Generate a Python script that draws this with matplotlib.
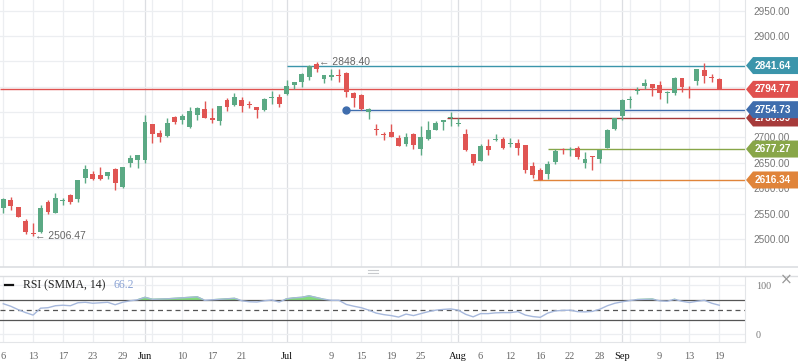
import matplotlib
matplotlib.use('Agg')
import matplotlib.pyplot as plt
from matplotlib.patches import Polygon
from matplotlib.transforms import blended_transform_factory, Bbox, TransformedBbox
import numpy as np


# Daily OHLC candles (oldest first)
opens = [2562, 2577, 2563, 2535.6, 2512.6, 2514.6, 2573, 2552, 2575, 2587,
         2579.5, 2621, 2628, 2626, 2624, 2638, 2603, 2650, 2655, 2656,
         2726.6, 2709, 2703, 2740, 2735, 2721, 2744, 2756, 2738.4, 2732.5,
         2774, 2764, 2774, 2765, 2760, 2754, 2778, 2780, 2786, 2803,
         2809, 2819, 2844.7, 2816, 2819, 2823, 2827, 2787.6, 2783.7, 2751,
         2716, 2706, 2711, 2699, 2688, 2707, 2678, 2697.6, 2715.4, 2731,
         2739, 2727, 2707, 2667.5, 2654, 2683, 2695.5, 2697, 2687, 2689,
         2685, 2644, 2636, 2628, 2652, 2676.5, 2674.5, 2678.7, 2650.4, 2663,
         2658, 2680, 2717, 2743, 2773, 2791, 2801, 2805, 2803, 2787,
         2788, 2817, 2795, 2812, 2833, 2818.5, 2815]
highs = [2580, 2583, 2563, 2539.6, 2531.7, 2567, 2577, 2590.7, 2580, 2589.5,
         2617, 2646, 2634, 2642, 2632, 2640.5, 2642, 2665.5, 2666, 2744,
         2727, 2714.8, 2737.8, 2742, 2746, 2760, 2760, 2772, 2758, 2762,
         2777, 2787.6, 2780, 2772, 2761, 2778.4, 2791, 2786, 2813, 2810,
         2826, 2842, 2848.4, 2824, 2835, 2835, 2829.5, 2790, 2785, 2758,
         2726.6, 2711, 2726.6, 2704, 2709, 2709, 2722.7, 2732.5, 2732.5, 2735,
         2751, 2738, 2717, 2668, 2687, 2697.6, 2707, 2701, 2699, 2697,
         2686, 2651.8, 2640, 2653.7, 2677.27, 2678.7, 2680.7, 2682.7, 2671, 2664,
         2676, 2716, 2738.5, 2776, 2782, 2799, 2815, 2806, 2811, 2791.5,
         2819, 2818, 2801, 2835, 2846.7, 2824.4, 2817]
lows = [2552, 2558, 2543, 2510.6, 2506.47, 2511.4, 2550, 2551, 2568, 2568.5,
        2573.6, 2611, 2617, 2617, 2619, 2597, 2601, 2642, 2640, 2650.4,
        2690, 2692, 2701.6, 2726, 2727, 2719, 2734.5, 2739, 2729, 2724.6,
        2752, 2762.6, 2751, 2759, 2739, 2752, 2766, 2761, 2784, 2795.5,
        2799, 2814, 2829, 2807, 2813, 2810, 2780, 2759.5, 2754.73, 2736,
        2705, 2696, 2701, 2683, 2684, 2677, 2665.5, 2696, 2714, 2715,
        2723, 2723, 2673, 2646.5, 2653, 2666, 2694, 2677, 2682, 2666,
        2630.7, 2620, 2616.34, 2619, 2648, 2667, 2663, 2658, 2640.5, 2636.6,
        2650.4, 2679, 2715, 2735, 2759, 2786, 2795, 2782, 2776, 2768.5,
        2784, 2790, 2777.6, 2804, 2808, 2810, 2794.77]
closes = [2579, 2565.6, 2544, 2514.6, 2509.4, 2560.6, 2554, 2581, 2577, 2572.5,
          2616, 2638, 2618, 2618, 2631.5, 2611, 2641, 2660, 2665.6, 2730.5,
          2707.5, 2701.6, 2728.5, 2731, 2742, 2752, 2758, 2739, 2735, 2762,
          2760.6, 2780, 2762, 2763.5, 2754, 2776, 2780, 2766, 2801, 2809,
          2825, 2841, 2835, 2823, 2823, 2821, 2790, 2778, 2755.5, 2756,
          2714.6, 2705, 2701.6, 2683.3, 2701, 2684.6, 2701, 2714.6, 2728.5, 2734.4,
          2741, 2729, 2676, 2650.4, 2683, 2676, 2697, 2679, 2688.5, 2680,
          2636.6, 2627, 2617, 2648, 2673.4, 2675, 2676, 2662, 2657, 2661.5,
          2675.4, 2714.6, 2737.8, 2774, 2775, 2794, 2807, 2798, 2788, 2788.5,
          2817, 2799.4, 2793.5, 2835, 2822, 2817.5, 2794.77]

# RSI (SMMA, 14), one value per candle
rsi = [62, 57, 50, 44, 39, 53, 54, 58, 59, 58,
       64, 65, 63, 64, 65, 60, 65, 68, 70, 75,
       71, 71.5, 72, 73, 74, 75, 76, 69, 70, 71,
       72, 73, 68, 66, 65.5, 68, 69.5, 65.5, 72, 74,
       75, 78, 74.5, 71, 69, 69, 60.5, 57, 54, 49,
       43, 40, 38, 35, 41, 38, 42, 46, 49, 50.5,
       51.5, 49, 40.5, 35.5, 42, 42, 43.5, 44, 44, 46,
       39, 36, 34.5, 43, 47.5, 48.5, 49, 46, 45.5, 46.5,
       51, 58, 63, 66, 68.5, 70.5, 71, 71.5, 68, 67,
       71, 67, 64.5, 67, 69, 63, 59]

# x axis labels (candle index, text)
tick_pos = [0, 4, 8, 12, 16, 19, 24, 28, 32, 38, 44, 48, 52, 56, 61, 64,
            68, 72, 76, 80, 83, 88, 92, 96]
tick_labels = ['6', '13', '17', '23', '29', 'Jun', '10', '17', '21', 'Jul',
               '9', '15', '19', '25', 'Aug', '6', '12', '16', '22', '28',
               'Sep', '9', '13', '19']
month_pos = [19, 38, 61, 83]

# price axis ticks (the ones hidden behind the tags stay blank)
price_ticks = [2500, 2550, 2600, 2650, 2700, 2750, 2800, 2850, 2900, 2950]
hidden_ticks = [2750, 2800, 2850]

# horizontal levels: price, start candle, colour
level_prices = [2841.64, 2794.77, 2754.73, 2738.39, 2677.27, 2616.34]
level_starts = [38, -0.5, 46, 59.5, 73, 71]
level_colors = ['#3b95ab', '#e0514f', '#3f6dad', '#a63b3b', '#88a648', '#e0843a']

UP = '#5ba984'
DOWN = '#e05553'
GRID = '#eceef1'

W, H = 798, 363
fig = plt.figure(figsize=(W / 100, H / 100), dpi=100)

XMIN, XMAX = -0.44, 99.45
YMIN, YMAX = 2445, 2970.7
ax = fig.add_axes([0, 1 - 267 / H, 745 / W, 267 / H])
ax2 = fig.add_axes([0, 1 - 342 / H, 745 / W, 66 / H])

n = len(opens)
x = np.arange(n)
o = np.array(opens)
c = np.array(closes)
hi = np.array(highs)
lo = np.array(lows)
col = np.where(c >= o, UP, DOWN)

# ---- main price panel
ax.set_xlim(XMIN, XMAX)
ax.set_ylim(YMIN, YMAX)
for p in range(0, 97, 4):
    ax.axvline(p, color=GRID, lw=0.9, zorder=0)
    ax2.axvline(p, color=GRID, lw=0.9, zorder=0)
for p in month_pos:
    ax.axvline(p, color='#dcdee2', lw=0.9, zorder=0)
    ax2.axvline(p, color='#dcdee2', lw=0.9, zorder=0)
for v in price_ticks:
    ax.axhline(v, color=GRID, lw=0.9, zorder=0)

ax.vlines(x, lo, hi, colors=col, lw=1.0, zorder=3)
body = np.maximum(np.abs(c - o), 2.2)
ax.bar(x, body, bottom=np.minimum(o, c), width=0.66, color=col, zorder=3)

for price, start, colr in zip(level_prices, level_starts, level_colors):
    ax.hlines(price, start, XMAX, colors=colr, lw=1.0, zorder=2)
ax.plot(46, 2754.73, 'o', color='#3f6dad', ms=5, zorder=4)

ax.text(42.3, 2849.5, '\u2190 2848.40', color='#666666', fontsize=7.5,
        family=['Liberation Sans', 'DejaVu Sans'], va='center', ha='left', zorder=4)
ax.text(4.3, 2506.47, '\u2190 2506.47', color='#666666', fontsize=7.5,
        family=['Liberation Sans', 'DejaVu Sans'], va='center', ha='left', zorder=4)

ax.set_xticks([])
ax.yaxis.tick_right()
ax.set_yticks(price_ticks)
ax.set_yticklabels(['' if v in hidden_ticks else f'{v:.2f}' for v in price_ticks])
ax.tick_params(axis='y', length=0, pad=6, labelsize=7.2, labelcolor='#777777')
for t in ax.get_yticklabels():
    t.set_family('Liberation Sans')
for s in ['top', 'left', 'bottom']:
    ax.spines[s].set_visible(False)
ax.spines['right'].set_color('#e3e5e8')

# price tags on the right axis
tr = blended_transform_factory(fig.transFigure, ax.transData)
hh = 8.5 * (YMAX - YMIN) / 267.0
tag_order = [3, 2, 0, 1, 4, 5]
for i in tag_order:
    price, colr = level_prices[i], level_colors[i]
    pts = [(746 / W, price), (753 / W, price + hh), (1.0, price + hh),
           (1.0, price - hh), (753 / W, price - hh)]
    ax.add_patch(Polygon(pts, closed=True, transform=tr, facecolor=colr,
                         edgecolor='none', clip_on=False, zorder=6))
    t = ax.text(773 / W, price, f'{price:.2f}', transform=tr, color='white',
                fontsize=7.2, fontweight='bold', family='Liberation Sans',
                ha='center', va='center', clip_on=False, zorder=7)
    if i == 3:
        # this tag sits partly under the blue one, show only its lower part
        top = level_prices[2] - hh
        t.set_clip_box(TransformedBbox(Bbox([[740 / W, price - hh - 2], [1.0, top]]), tr))
        t.set_clip_on(True)

# ---- RSI panel
ax2.set_xlim(XMIN, XMAX)
ax2.set_ylim(-15.6, 118.3)
ax2.axhline(100, color=GRID, lw=0.9, zorder=0)
ax2.axhline(0, color=GRID, lw=0.9, zorder=0)
r = np.array(rsi, dtype=float)
ax2.fill_between(x, r, 70, where=r > 70, interpolate=True, color='#84dc7e', zorder=1)
ax2.plot(x, r, color='#a6b8dc', lw=1.0, zorder=2)
ax2.axhline(70, color='#555555', lw=0.9, zorder=1)
ax2.axhline(30, color='#555555', lw=0.9, zorder=1)
ax2.axhline(50, color='#555555', lw=0.9, ls=(0, (4, 3)), zorder=1)

ax2.yaxis.tick_right()
ax2.set_yticks([0, 100])
ax2.set_yticklabels(['0', '100'])
ax2.tick_params(axis='y', length=0, pad=8, labelsize=7.2, labelcolor='#777777')
for t in ax2.get_yticklabels():
    t.set_family('Liberation Serif')
ax2.set_xticks(tick_pos)
ax2.set_xticklabels(tick_labels)
ax2.tick_params(axis='x', length=0, pad=7, labelsize=7.5, labelcolor='#666666')
for t, lab in zip(ax2.get_xticklabels(), tick_labels):
    t.set_family('Liberation Serif')
    if not lab.isdigit():
        t.set_color('#111111')
for s in ['top', 'left']:
    ax2.spines[s].set_visible(False)
ax2.spines['right'].set_color('#e3e5e8')
ax2.spines['bottom'].set_color('#e3e5e8')

ax2.text(23 / 745, 0.86, 'RSI (SMMA, 14)', transform=ax2.transAxes, fontsize=8.5,
         family='Liberation Serif', color='#222222', va='center', ha='left')
ax2.text(113 / 745, 0.86, '66.2', transform=ax2.transAxes, fontsize=8.5,
         family='Liberation Serif', color='#8aa2d4', va='center', ha='left')

# panel separators, collapse dash, resize handle, close cross
fig.add_artist(plt.Line2D([0, 1], [1 - 267 / H] * 2, color='#dcdee1', lw=1.2))
fig.add_artist(plt.Line2D([0, 1], [1 - 276 / H] * 2, color='#dcdee1', lw=1.0))
fig.add_artist(plt.Line2D([5 / W, 13 / W], [1 - 285 / H] * 2, color='#111111', lw=1.6))
for yy in (270, 273):
    fig.add_artist(plt.Line2D([368 / W, 378 / W], [1 - yy / H] * 2, color='#c8cacd', lw=0.8))
fig.text(786 / W, 1 - 280 / H, '\u00d7', fontsize=11, color='#999999',
         ha='center', va='center', family='DejaVu Sans')

fig.savefig('out.png', dpi=100, facecolor='white')
